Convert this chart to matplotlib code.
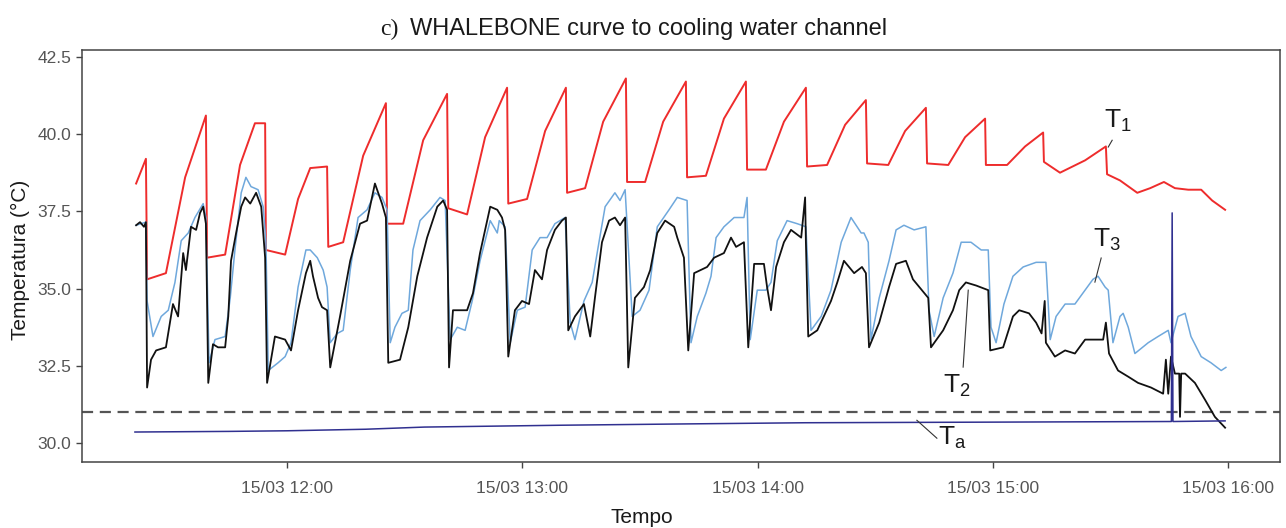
import pandas as pd
import numpy as np
import matplotlib
matplotlib.use('Agg')
import matplotlib.pyplot as plt
import matplotlib.dates as mdates

plt.rcParams['font.family'] = ['Liberation Sans', 'DejaVu Sans']
plt.rcParams['mathtext.default'] = 'regular'

# minutes after 11:00 on 15/03, temperatures in degC
t1_min = [21.5, 24.0, 24.3, 29.1, 34.0, 39.3, 39.6, 44.2, 48.0, 51.8, 54.4, 54.6,
          59.5, 62.8, 65.9, 70.2, 70.5, 74.3, 79.4, 85.2, 85.5, 89.6, 94.7, 100.8,
          101.1, 105.9, 110.5, 116.1, 116.4, 121.2, 125.8, 131.1, 131.4, 136.0, 140.6,
          146.4, 146.7, 151.3, 155.9, 161.7, 162.0, 166.8, 171.4, 177.0, 177.3, 182.1,
          186.7, 192.3, 192.6, 197.7, 202.3, 207.6, 207.9, 213.3, 217.6, 222.9, 223.2,
          228.6, 232.9, 238.0, 238.2, 243.6, 248.2, 252.8, 253.0, 257.1, 263.5, 268.8,
          269.1, 272.4, 276.8, 280.1, 283.6, 286.4, 289.8, 293.1, 295.9, 299.2]
t1_val = [38.4, 39.2, 35.3, 35.5, 38.6, 40.6, 36.0, 36.1, 39.0, 40.35, 40.35, 36.25,
          36.1, 37.9, 38.9, 38.95, 36.35, 36.5, 39.3, 41.0, 37.1, 37.1, 39.8, 41.3,
          37.6, 37.4, 39.9, 41.5, 37.75, 37.9, 40.1, 41.5, 38.1, 38.25, 40.4,
          41.8, 38.45, 38.45, 40.4, 41.7, 38.6, 38.65, 40.5, 41.7, 38.85, 38.85,
          40.4, 41.5, 38.95, 39.0, 40.3, 41.1, 39.05, 39.0, 40.1, 40.85, 39.05,
          39.0, 39.9, 40.5, 39.0, 39.0, 39.6, 40.05, 39.1, 38.75, 39.15, 39.6,
          38.7, 38.5, 38.1, 38.25, 38.45, 38.25, 38.2, 38.2, 37.85, 37.55]

t2_min = [21.5, 22.5, 23.5, 24.0, 24.3, 25.3, 26.6, 29.1, 30.9, 32.2, 33.5, 34.2,
          35.5, 36.8, 37.8, 38.6, 39.3, 39.9, 41.1, 42.4, 44.2, 45.0, 45.7, 47.0,
          48.3, 49.3, 50.6, 52.1, 53.4, 54.4, 54.9, 56.9, 59.5, 61.0, 62.8, 64.8,
          65.9, 66.6, 67.9, 68.9, 70.2, 71.0, 73.5, 76.1, 78.6, 80.4, 82.4, 84.2,
          85.2, 85.8, 88.8, 90.9, 93.2, 95.7, 98.3, 99.8, 100.8, 101.3, 102.3, 105.9,
          107.4, 109.2, 111.8, 113.6, 114.8, 115.6, 116.4, 118.1, 119.9, 121.7, 123.2,
          125.0, 126.3, 128.3, 130.1, 131.1, 131.7, 133.4, 135.7, 137.3, 138.5, 140.3,
          142.1, 143.6, 144.9, 146.2, 147.0, 148.7, 151.0, 152.6, 154.4, 156.4, 158.7,
          159.5, 161.2, 162.3, 163.8, 167.1, 168.9, 171.4, 173.2, 174.5, 176.5, 177.6,
          179.1, 181.6, 182.4, 183.4, 184.7, 186.7, 188.5, 191.1, 192.1, 192.3, 192.9,
          195.2, 198.7, 200.3, 202.0, 204.6, 206.6, 207.6, 208.4, 211.0, 213.5, 215.3,
          217.8, 219.6, 222.2, 223.5, 224.2, 227.3, 229.8, 231.4, 233.1, 235.7, 238.8,
          239.3, 242.6, 245.1, 246.7, 249.2, 251.0, 252.4, 253.2, 253.5, 255.8, 258.4,
          260.9, 263.5, 266.0, 268.1, 268.8, 269.6, 271.9, 274.5, 277.0, 280.3, 283.4,
          284.1, 284.7, 285.4, 286.4, 287.5, 287.7, 288.0, 289.0, 291.5, 294.1, 296.6,
          299.2]
t2_val = [37.05, 37.15, 37.0, 37.15, 31.8, 32.7, 33.0, 33.1, 34.5, 34.1, 36.15, 35.6,
          37.0, 36.9, 37.45, 37.65, 37.1, 31.95, 33.2, 33.1, 33.1, 34.1, 35.9, 36.8,
          37.65, 37.95, 37.75, 38.1, 37.65, 36.0, 31.95, 33.45, 33.35, 33.0, 34.3, 35.5,
          35.9, 35.4, 34.7, 34.4, 34.3, 32.45, 34.1, 35.9, 37.1, 37.2, 38.4, 37.75,
          37.3, 32.6, 32.7, 33.75, 35.4, 36.65, 37.65, 37.85, 37.55, 32.45, 34.3, 34.3,
          34.85, 36.15, 37.65, 37.55, 37.3, 36.9, 32.8, 34.3, 34.6, 34.5, 35.6,
          35.3, 36.25, 36.9, 37.2, 37.3, 33.65, 34.1, 34.5, 33.45, 34.7, 36.5,
          37.2, 37.3, 37.05, 37.3, 32.45, 34.7, 35.05, 35.6, 36.8, 37.2, 37.0,
          36.65, 36.0, 33.0, 35.5, 35.7, 36.0, 36.15, 36.65, 36.35, 36.5, 33.1,
          35.8, 35.8, 35.05, 34.3, 35.7, 36.5, 36.9, 36.65, 37.95, 36.5, 33.45,
          33.65, 34.6, 35.2, 35.9, 35.5, 35.7, 35.5, 33.1, 33.9, 35.05, 35.8,
          35.9, 35.3, 34.9, 34.7, 33.1, 33.65, 34.3, 34.95, 35.2, 35.1, 34.95,
          33.0, 33.1, 34.1, 34.3, 34.2, 33.9, 33.55, 34.6, 33.25, 32.8, 33.0,
          32.9, 33.35, 33.35, 33.35, 33.9, 32.9, 32.35, 32.15, 31.95, 31.8, 31.6,
          32.7, 31.6, 32.8, 32.25, 32.25, 30.85, 32.25, 32.25, 31.95, 31.4, 30.85,
          30.5]

t3_min = [21.5, 24.0, 24.3, 25.8, 27.9, 29.7, 31.4, 33.0, 34.8, 36.5, 38.6, 39.3,
          40.1, 41.6, 44.2, 45.5, 46.7, 48.3, 49.5, 50.8, 52.6, 53.9, 54.6, 55.2,
          57.7, 59.5, 61.0, 62.8, 64.8, 65.9, 67.7, 69.2, 70.2, 71.0, 72.8, 74.3,
          76.1, 78.1, 80.4, 82.4, 84.2, 85.5, 86.3, 87.5, 89.3, 90.9, 92.1, 93.9,
          96.5, 99.0, 100.3, 101.6, 103.4, 105.4, 107.2, 109.2, 111.8, 113.6, 114.1,
          115.6, 116.9, 118.7, 120.7, 122.5, 124.5, 126.3, 128.3, 130.9, 132.2, 133.4,
          135.7, 137.8, 139.6, 141.1, 143.6, 144.9, 146.2, 148.0, 150.0, 152.3, 154.4,
          157.4, 159.5, 162.0, 163.0, 164.6, 166.8, 168.1, 169.4, 171.4, 174.0, 176.5,
          177.3, 178.1, 179.9, 182.1, 183.4, 185.0, 187.5, 190.1, 192.3, 193.6, 196.2,
          198.7, 201.3, 203.8, 206.4, 207.1, 208.2, 208.9, 211.0, 213.5, 215.3, 217.3,
          219.9, 222.9, 223.7, 225.0, 227.3, 229.8, 231.9, 234.4, 237.0, 238.8, 239.5,
          240.8, 242.8, 245.1, 247.7, 251.0, 253.5, 254.6, 256.1, 258.4, 260.9, 263.5,
          265.5, 266.8, 268.6, 269.4, 270.6, 272.4, 273.2, 274.5, 276.2, 279.6, 282.1,
          284.7, 285.4, 287.2, 289.0, 290.5, 293.1, 295.6, 298.2, 299.4]
t3_val = [37.05, 37.15, 34.6, 33.45, 34.1, 34.3, 35.2, 36.55, 36.8, 37.3, 37.75, 37.3,
          32.6, 33.35, 33.45, 34.7, 36.25, 38.1, 38.6, 38.3, 38.2, 37.65, 36.5, 32.35,
          32.6, 32.8, 33.25, 35.05, 36.25, 36.25, 36.0, 35.6, 35.05, 33.25, 33.55, 33.65,
          35.6, 37.3, 37.55, 38.1, 37.95, 37.55, 33.25, 33.75, 34.2, 34.3, 36.25, 37.2,
          37.55, 37.95, 37.85, 33.35, 33.75, 33.65, 34.6, 35.9, 37.2, 36.8, 37.2,
          37.0, 33.25, 34.3, 34.4, 36.25, 36.65, 36.65, 37.1, 37.3, 33.9, 33.35,
          34.6, 35.2, 36.55, 37.65, 38.1, 37.85, 38.2, 34.1, 34.3, 34.95, 37.0,
          37.55, 37.95, 37.85, 33.25, 34.1, 34.85, 35.4, 36.65, 37.0, 37.3, 37.3,
          37.95, 33.35, 34.95, 34.95, 35.2, 36.55, 37.2, 37.1, 37.0, 33.65, 34.1,
          34.95, 36.5, 37.3, 36.8, 36.8, 36.5, 33.35, 34.7, 35.9, 36.9, 37.05,
          36.9, 37.0, 34.3, 33.45, 34.7, 35.5, 36.5, 36.5, 36.25, 36.25, 33.75,
          33.25, 34.5, 35.4, 35.7, 35.85, 35.85, 33.35, 34.1, 34.5, 34.5, 34.95,
          35.3, 35.4, 35.05, 34.95, 33.25, 34.1, 34.2, 33.75, 32.9, 33.25, 33.45,
          33.65, 33.25, 34.1, 34.2, 33.45, 32.8, 32.6, 32.35, 32.45]

ta_min = [21.2, 45.0, 60.0, 80.0, 95.0, 130.0, 160.0, 192.0, 240.0, 285.5, 285.7, 285.9, 299.2]
ta_val = [30.36, 30.38, 30.4, 30.45, 30.52, 30.58, 30.62, 30.66, 30.68, 30.7, 37.45, 30.7, 30.72]

limit_temp = 31.0

# label text, text position (min, degC), pointer start, pointer end
labels = [
    ('T$_1$', (268.3, 40.19), (270.4, 39.8), (269.4, 39.58)),
    ('T$_3$', (265.5, 36.34), (267.6, 35.99), (266.0, 35.21)),
    ('T$_2$', (227.3, 31.62), (232.4, 32.46), (233.7, 34.95)),
    ('T$_a$', (226.0, 29.94), (225.7, 30.16), (220.6, 30.74)),
]

base = pd.Timestamp('2020-03-15 11:00')


def to_time(mins):
    return base + pd.to_timedelta(np.asarray(mins), unit='m')


fig = plt.figure(figsize=(12.86, 5.28), dpi=100)
ax = fig.add_axes([82 / 1286, 1 - 462 / 528, 1198 / 1286, 412 / 528])

ax.axhline(limit_temp, color='#555555', lw=1.6, ls=(0, (5, 3)), zorder=1)
ax.plot(to_time(t1_min), t1_val, color='#ee2c2c', lw=1.4, zorder=3)
ax.plot(to_time(t3_min), t3_val, color='#6fa8dc', lw=1.1, zorder=3)
ax.plot(to_time(t2_min), t2_val, color='#111111', lw=1.3, zorder=4)
ax.plot(to_time(ta_min), ta_val, color='#303090', lw=1.1, zorder=5)

for txt, pos, p0, p1 in labels:
    ax.text(to_time([pos[0]])[0], pos[1], txt, fontsize=19, color='#1a1a1a',
            ha='left', va='baseline', zorder=6)
    ax.plot(to_time([p0[0], p1[0]]), [p0[1], p1[1]], color='#333333', lw=0.8, zorder=6)

ax.set_xlim(to_time([7.7])[0], to_time([313.2])[0])
ax.set_ylim(29.39, 42.72)
ax.set_yticks([30.0, 32.5, 35.0, 37.5, 40.0, 42.5])
ax.yaxis.set_major_formatter(plt.FuncFormatter(lambda v, p: f'{v:.1f}'))
ax.xaxis.set_major_locator(mdates.HourLocator(interval=1))
ax.xaxis.set_major_formatter(mdates.DateFormatter('%d/%m %H:%M'))

for s in ax.spines.values():
    s.set_color('#444444')
    s.set_linewidth(1.1)
ax.tick_params(axis='both', colors='#444444', labelcolor='#555555', labelsize=12.5,
               length=4.5, width=1.0)
ax.tick_params(axis='x', pad=9)
ax.tick_params(axis='y', pad=3)

fig.text(20 / 1286, 1 - 260 / 528, 'Temperatura (°C)', rotation=90, fontsize=15,
         ha='center', va='center', color='#1a1a1a')
fig.text(642 / 1286, 1 - 523 / 528, 'Tempo', fontsize=15, ha='center',
         va='baseline', color='#1a1a1a')
fig.text(380 / 1286, 1 - 35 / 528, 'c)', fontsize=17, family='Liberation Serif',
         ha='left', va='baseline', color='#1a1a1a')
fig.text(410 / 1286, 1 - 35 / 528, 'WHALEBONE curve to cooling water channel',
         fontsize=17, ha='left', va='baseline', color='#1a1a1a')

fig.savefig('out.png', dpi=100)
